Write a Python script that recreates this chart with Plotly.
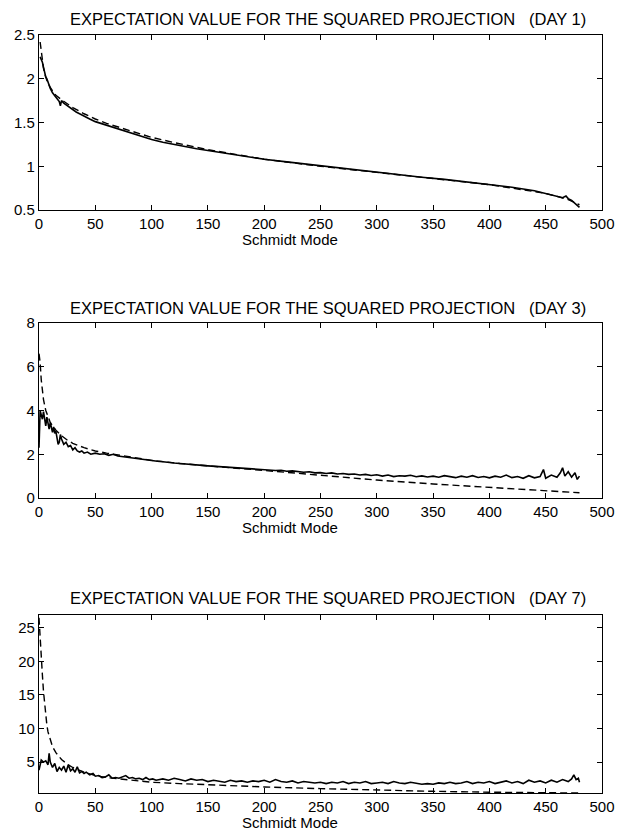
import plotly.graph_objects as go

# ---------------- DATA ----------------
x_ticks = [0, 50, 100, 150, 200, 250, 300, 350, 400, 450, 500]
titles = [
    "EXPECTATION VALUE FOR THE SQUARED PROJECTION\u00a0\u00a0\u00a0(DAY 1)",
    "EXPECTATION VALUE FOR THE SQUARED PROJECTION\u00a0\u00a0\u00a0(DAY 3)",
    "EXPECTATION VALUE FOR THE SQUARED PROJECTION\u00a0\u00a0\u00a0(DAY 7)",
]
x_title = "Schmidt Mode"

# Day 1
d1_solid_x = [1, 2, 3, 4, 5, 6, 7, 8, 10, 12, 14, 16, 18, 19, 20, 22, 25, 28, 30, 33, 36, 40, 45, 50, 55, 60, 65,
              70, 75, 80, 90, 100, 110, 120, 130, 140, 150, 160, 170, 180, 190, 200, 220, 240, 260, 280, 300, 320,
              340, 360, 380, 400, 420, 440, 450, 455, 460, 465, 468, 470, 473, 476, 478, 480]
d1_solid_y = [2.25, 2.22, 2.19, 2.13, 2.07, 2.02, 2.00, 1.96, 1.89, 1.84, 1.81, 1.77, 1.74, 1.69, 1.75, 1.72, 1.69,
              1.66, 1.64, 1.62, 1.60, 1.57, 1.54, 1.51, 1.49, 1.47, 1.45, 1.43, 1.41, 1.385, 1.345, 1.305, 1.275,
              1.25, 1.22, 1.20, 1.18, 1.16, 1.14, 1.12, 1.10, 1.08, 1.05, 1.02, 0.99, 0.96, 0.93, 0.90, 0.875, 0.85,
              0.82, 0.79, 0.76, 0.72, 0.69, 0.67, 0.66, 0.64, 0.66, 0.63, 0.61, 0.58, 0.56, 0.53]
d1_dash_x = [1, 2, 3, 4, 5, 7, 10, 15, 20, 25, 30, 40, 50, 60, 70, 80, 100, 120, 150, 200, 250, 300, 350, 400,
             450, 470, 480]
d1_dash_y = [2.42, 2.30, 2.20, 2.12, 2.06, 1.98, 1.90, 1.81, 1.76, 1.71, 1.67, 1.60, 1.54, 1.49, 1.45, 1.41, 1.33,
             1.27, 1.19, 1.08, 1.00, 0.93, 0.86, 0.79, 0.69, 0.62, 0.56]

# Day 3
d3_solid_x = [0, 1, 2, 3, 4, 5, 6, 7, 8, 9, 10, 11, 12, 13, 14, 15, 16, 17, 18, 19, 20, 21, 22, 24, 26, 28, 30,
              32, 34, 36, 38, 40, 43, 46, 50, 54, 58, 62, 66, 70, 75, 80, 85, 90, 95, 100, 105, 110, 115, 120, 125,
              130, 135, 140, 145, 150, 155, 160, 165, 170, 175, 180, 185, 190, 195, 200, 205, 210, 215, 220, 225,
              230, 235, 240, 245, 250, 255, 260, 265, 270, 275, 280, 285, 290, 295, 300, 305, 310, 315, 320, 325,
              330, 335, 340, 345, 350, 355, 360, 365, 370, 375, 380, 385, 390, 395, 400, 405, 410, 415, 420, 425,
              430, 435, 440, 445, 448, 450, 455, 460, 463, 465, 467, 470, 473, 476, 478, 480]
d3_solid_y = [2.30, 4.00, 3.80, 3.60, 3.95, 3.50, 3.30, 3.70, 3.40, 3.15, 3.45, 3.20, 3.00, 3.25, 2.95, 3.05, 2.80,
              2.45, 2.55, 2.90, 2.70, 2.60, 2.45, 2.55, 2.35, 2.40, 2.20, 2.30, 2.15, 2.10, 2.15, 2.05, 2.10, 2.00,
              2.05, 2.00, 2.02, 1.95, 2.00, 1.92, 1.90, 1.85, 1.82, 1.78, 1.75, 1.70, 1.68, 1.66, 1.62, 1.60, 1.58,
              1.55, 1.52, 1.50, 1.49, 1.47, 1.45, 1.44, 1.42, 1.40, 1.39, 1.37, 1.35, 1.34, 1.31, 1.30, 1.28, 1.26,
              1.27, 1.22, 1.24, 1.20, 1.18, 1.20, 1.15, 1.16, 1.12, 1.15, 1.10, 1.12, 1.08, 1.10, 1.05, 1.08, 1.03,
              1.06, 1.00, 1.05, 0.98, 1.02, 1.00, 1.04, 0.97, 1.01, 0.96, 1.00, 0.95, 1.02, 0.97, 0.93, 1.00, 0.95,
              1.02, 0.94, 0.98, 0.92, 1.00, 0.95, 1.05, 0.93, 0.98, 0.90, 1.02, 0.92, 0.98, 1.30, 0.90, 1.05, 0.95,
              1.15, 1.38, 1.00, 1.20, 0.95, 1.15, 0.85, 1.00]
d3_dash_x = [0, 1, 2, 3, 4, 6, 8, 10, 15, 20, 25, 30, 40, 50, 60, 80, 100, 125, 150, 175, 200, 250, 300, 350, 400,
             450, 480]
d3_dash_y = [6.60, 6.20, 5.40, 4.90, 4.50, 4.00, 3.70, 3.45, 3.10, 2.85, 2.65, 2.50, 2.30, 2.15, 2.05, 1.88, 1.72,
             1.58, 1.46, 1.36, 1.26, 1.03, 0.82, 0.64, 0.48, 0.33, 0.24]

# Day 7
d7_solid_x = [0, 2, 4, 6, 8, 9, 10, 12, 14, 16, 18, 20, 22, 24, 26, 28, 30, 32, 34, 36, 38, 40, 42, 45, 48, 50, 53,
              56, 59, 62, 65, 68, 71, 74, 77, 80, 83, 86, 89, 92, 95, 98, 101, 104, 107, 110, 115, 120, 125, 130,
              135, 140, 145, 150, 155, 160, 165, 170, 175, 180, 185, 190, 195, 200, 205, 210, 215, 220, 225, 230,
              235, 240, 245, 250, 255, 260, 265, 270, 275, 280, 285, 290, 295, 300, 305, 310, 315, 320, 325, 330,
              335, 340, 345, 350, 355, 360, 365, 370, 375, 380, 385, 390, 395, 400, 405, 410, 415, 420, 425, 430,
              435, 440, 445, 450, 455, 460, 465, 470, 473, 475, 477, 479, 480]
d7_solid_y = [3.8, 5.3, 5.0, 5.2, 4.6, 6.3, 5.0, 4.2, 4.8, 3.6, 4.2, 3.8, 4.4, 3.5, 4.6, 3.7, 4.0, 3.5, 4.3, 3.4,
              3.6, 3.3, 3.5, 3.1, 3.3, 2.9, 3.0, 2.7, 2.8, 3.1, 2.6, 2.7, 2.6, 2.8, 3.0, 2.6, 2.7, 2.5, 2.6, 2.4,
              2.7, 2.4, 2.5, 2.3, 2.4, 2.5, 2.3, 2.6, 2.4, 2.2, 2.5, 2.3, 2.4, 2.1, 2.3, 2.2, 2.0, 2.3, 2.1, 2.2,
              2.0, 2.2, 2.1, 2.3, 2.0, 2.4, 2.1, 2.0, 2.2, 1.9, 2.1, 2.0, 1.9, 2.0, 1.8, 2.0, 1.9, 2.1, 1.8, 2.0,
              1.9, 2.1, 1.8, 1.9, 2.0, 1.8, 2.1, 1.9, 1.8, 2.0, 1.9, 1.7, 1.8, 1.7, 1.9, 1.8, 2.0, 1.8, 1.9, 2.1,
              1.8, 2.0, 1.9, 2.1, 1.8, 2.0, 2.2, 1.9, 2.1, 1.8, 2.3, 2.0, 2.2, 1.9, 2.3, 2.0, 2.4, 2.1, 2.5, 3.1,
              2.4, 2.6, 2.0]
d7_dash_x = [0, 1, 2, 3, 4, 5, 6, 7, 8, 10, 12, 15, 20, 25, 30, 40, 50, 60, 80, 100, 125, 150, 175, 200, 250, 300,
             350, 400, 450, 480]
d7_dash_y = [26.5, 23.0, 20.5, 18.0, 15.5, 13.5, 11.8, 10.5, 9.5, 8.2, 7.3, 6.4, 5.4, 4.7, 4.2, 3.5, 3.0, 2.7,
             2.3, 2.0, 1.8, 1.62, 1.45, 1.3, 1.05, 0.82, 0.65, 0.52, 0.43, 0.40]

y_ranges = [[0.5, 2.5], [0, 8], [0.4, 26.9]]
y_ticks = [[0.5, 1, 1.5, 2, 2.5], [0, 2, 4, 6, 8], [5, 10, 15, 20, 25]]

# ---------------- LAYOUT ----------------
W, H = 624, 833
ML, MR, MT, MB = 39, 22, 35, 40
PH = H - MT - MB
PW = W - ML - MR


def py(pix):
    return (H - MB - pix) / PH


def px(pix):
    return (pix - ML) / PW


boxes = [(35, 210), (323, 498), (615, 793)]
title_y = [19, 308, 598]

fig = go.Figure()
series = [(d1_solid_x, d1_solid_y, d1_dash_x, d1_dash_y),
          (d3_solid_x, d3_solid_y, d3_dash_x, d3_dash_y),
          (d7_solid_x, d7_solid_y, d7_dash_x, d7_dash_y)]

font = "Liberation Sans, Arial, Helvetica, sans-serif"
for i, (sx, sy, dx, dy) in enumerate(series):
    n = "" if i == 0 else str(i + 1)
    fig.add_trace(go.Scatter(x=sx, y=sy, mode="lines", line=dict(color="black", width=1.6),
                             xaxis="x" + n, yaxis="y" + n, showlegend=False))
    fig.add_trace(go.Scatter(x=dx, y=dy, mode="lines", line=dict(color="black", width=1.4, dash="7px,4px"),
                             xaxis="x" + n, yaxis="y" + n, showlegend=False))
    top, bot = boxes[i]
    axis_common = dict(showline=True, linecolor="black", linewidth=1.2, mirror="ticks", ticks="inside",
                       ticklen=5, tickcolor="black", showgrid=False, zeroline=False,
                       tickfont=dict(family=font, size=15, color="black"))
    fig.layout["xaxis" + n] = dict(axis_common, domain=[0, 1], range=[0, 500], tickvals=x_ticks,
                                   anchor="y" + n)
    fig.layout["yaxis" + n] = dict(axis_common, domain=[py(bot), py(top)], range=y_ranges[i],
                                   tickvals=y_ticks[i], anchor="x" + n)
    fig.add_annotation(text=titles[i], x=px(328), y=py(title_y[i]), xref="paper", yref="paper",
                       showarrow=False, xanchor="center", yanchor="middle",
                       font=dict(family=font, size=16.5, color="black"))
    fig.add_annotation(text=x_title, x=px(290), y=py(bot + 29), xref="paper", yref="paper",
                       showarrow=False, xanchor="center", yanchor="middle",
                       font=dict(family=font, size=15, color="black"))

fig.update_layout(width=W, height=H, margin=dict(l=ML, r=MR, t=MT, b=MB, autoexpand=False),
                  paper_bgcolor="white", plot_bgcolor="white")

fig.write_html("out.html", config={"displayModeBar": False})
